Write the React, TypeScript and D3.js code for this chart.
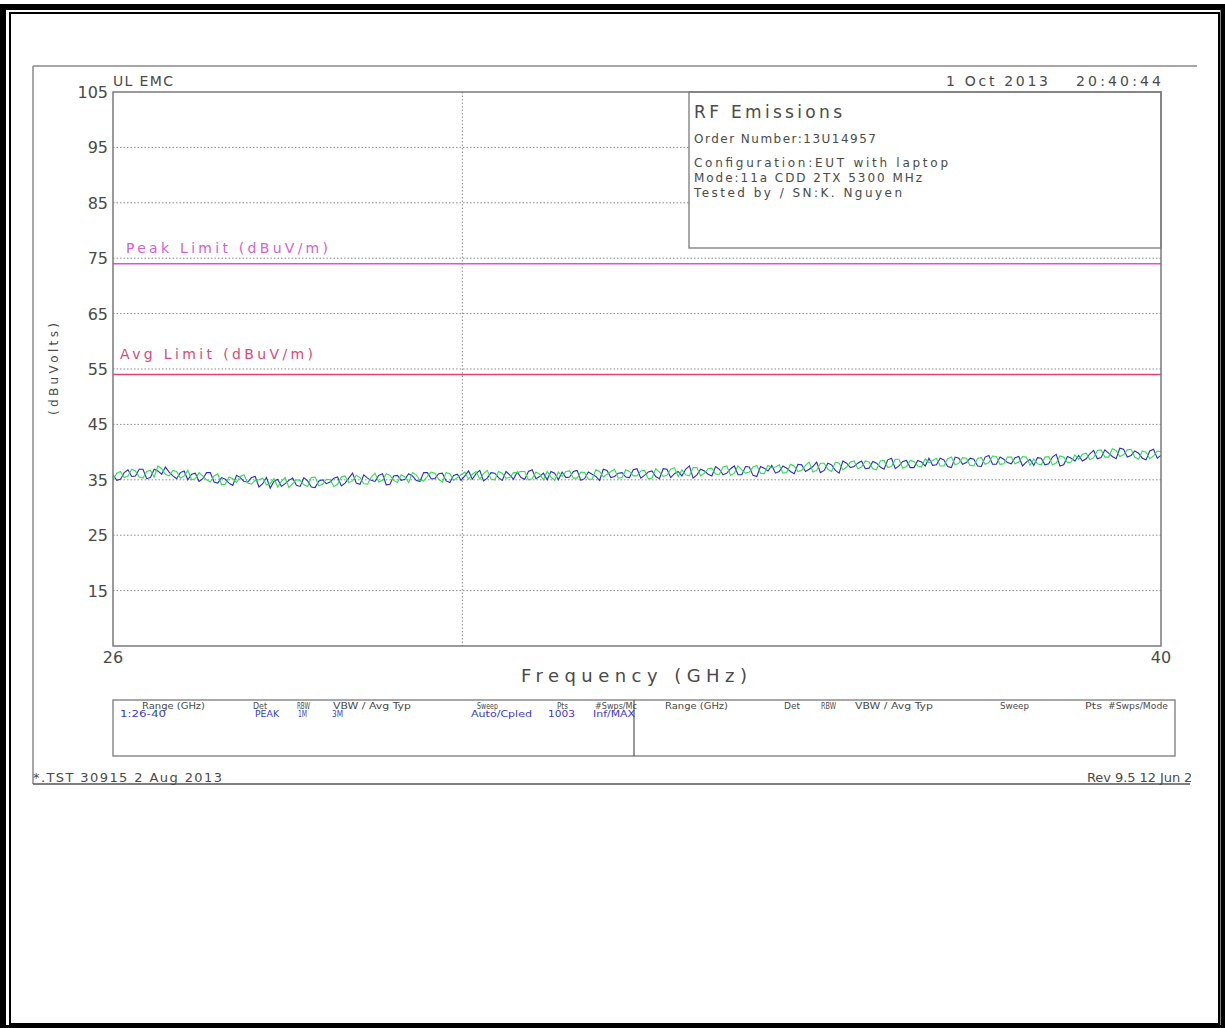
import React from "react";
import * as d3 from "d3";

// ---------- data ----------
const yTicks = [15, 25, 35, 45, 55, 65, 75, 85, 95, 105];
const xTickLabels = [26, 40];
const xDomain = [26, 40];
const yDomain = [5, 105];
const peakLimit = 74;
const avgLimit = 54;

// trace readings at 26.0, 26.1, ... 40.0 GHz (dBuV)
const blueTrace = [
  35.9, 35.1, 36.8, 35.7, 36.9, 35.4, 36.6, 37.3, 35.7, 36.3,
  35.0, 36.2, 35.2, 36.3, 34.4, 35.1, 34.0, 35.4, 34.6, 35.6,
  34.3, 33.5, 35.1, 34.3, 35.3, 33.8, 34.8, 33.6, 35.0, 34.6,
  35.5, 34.4, 36.2, 34.2, 35.3, 34.7, 36.1, 34.2, 35.8, 35.1,
  35.7, 34.7, 36.3, 35.2, 36.2, 34.5, 36.0, 35.7, 35.1, 36.7,
  35.3, 36.2, 34.9, 35.9, 36.4, 35.1, 36.8, 35.6, 35.0, 36.2,
  36.4, 35.5, 36.7, 35.2, 36.0, 34.9, 36.7, 35.6, 36.3, 35.4,
  37.0, 35.8, 36.6, 35.2, 36.9, 36.1, 35.7, 37.5, 35.9, 36.6,
  35.7, 36.9, 36.2, 37.5, 35.9, 37.3, 35.6, 37.1, 37.6, 36.5,
  37.1, 36.1, 37.7, 36.9, 38.2, 36.7, 37.7, 36.2, 38.0, 37.4,
  38.4, 37.1, 38.0, 36.9, 38.9, 37.5, 38.5, 37.2, 38.2, 38.9,
  37.7, 38.6, 37.2, 38.9, 38.1, 38.7, 37.4, 39.4, 37.8, 38.7,
  37.9, 39.2, 38.2, 37.6, 38.9, 37.9, 39.6, 37.7, 38.9, 39.4,
  38.8, 40.3, 39.0, 39.8, 38.8, 40.5, 39.4, 39.8, 38.6, 40.5,
  39.4,
];
// trace readings at 26.05, 26.15, ... 39.95 GHz
const blueTraceMid = [
  34.9, 36.3, 35.6, 36.9, 35.2, 36.9, 36.0, 36.4, 35.2, 36.6,
  36.0, 34.7, 36.3, 34.6, 35.4, 34.4, 35.8, 34.7, 35.4, 33.7,
  35.4, 34.7, 33.8, 34.9, 34.0, 35.4, 33.7, 34.8, 34.3, 35.3,
  33.9, 35.3, 34.4, 35.9, 34.9, 35.8, 34.1, 35.7, 34.9, 36.1,
  34.9, 36.3, 35.2, 36.1, 34.8, 35.8, 34.9, 36.6, 36.1, 34.8,
  36.3, 35.4, 36.5, 35.1, 35.4, 36.5, 35.2, 36.2, 36.5, 35.0,
  35.4, 36.5, 34.9, 36.4, 35.6, 36.9, 35.4, 36.2, 35.5, 36.8,
  35.3, 36.4, 35.6, 37.0, 35.4, 36.5, 36.9, 35.3, 36.9, 36.0,
  37.4, 35.9, 37.0, 35.9, 37.4, 35.8, 37.4, 36.6, 36.2, 37.5,
  36.5, 37.8, 36.5, 37.4, 36.3, 38.0, 36.7, 38.4, 37.2, 38.0,
  37.0, 38.3, 37.3, 38.6, 37.0, 38.3, 37.2, 38.5, 37.5, 37.6,
  38.9, 37.4, 39.1, 37.8, 38.9, 37.5, 39.1, 37.8, 39.1, 38.1,
  39.0, 37.5, 38.7, 39.0, 37.7, 39.1, 37.5, 39.2, 38.4, 38.4,
  39.7, 38.8, 40.4, 39.2, 40.7, 39.1, 40.2, 38.9, 40.2, 38.9,
];

const greenTrace = [
  35.0, 36.5, 35.7, 36.6, 35.3, 36.7, 37.5, 36.0, 36.7, 35.3,
  36.7, 35.2, 35.7, 34.6, 36.1, 34.2, 35.2, 35.6, 34.4, 34.9,
  35.3, 34.3, 33.7, 35.4, 34.3, 34.9, 33.8, 35.5, 34.2, 35.0,
  34.2, 35.7, 34.8, 35.4, 34.2, 36.2, 34.9, 35.8, 34.5, 35.5,
  36.3, 34.9, 35.6, 36.2, 34.6, 36.1, 35.4, 36.4, 36.0, 35.1,
  36.7, 35.0, 36.2, 35.4, 36.3, 36.5, 35.2, 36.0, 36.5, 34.9,
  35.6, 36.6, 35.3, 36.3, 35.1, 36.5, 36.0, 36.9, 35.4, 36.5,
  35.7, 36.7, 35.3, 36.4, 35.8, 37.2, 36.8, 35.7, 37.2, 36.2,
  37.1, 36.0, 37.5, 36.2, 36.8, 36.4, 37.6, 36.1, 37.2, 37.7,
  36.3, 37.5, 36.7, 38.2, 36.7, 38.0, 36.5, 38.0, 37.3, 38.4,
  37.3, 38.2, 36.8, 38.5, 37.4, 38.7, 37.4, 38.3, 37.3, 38.1,
  38.9, 37.5, 39.1, 38.0, 38.9, 37.5, 39.0, 38.1, 39.2, 37.9,
  39.1, 38.2, 39.1, 38.8, 37.7, 39.2, 38.0, 39.1, 38.2, 38.7,
  39.8, 39.0, 40.4, 39.1, 40.3, 39.5, 40.5, 38.7, 40.0, 39.3,
  40.1,
];
const greenTraceMid = [
  36.2, 35.4, 36.9, 35.5, 36.5, 35.5, 37.0, 35.7, 36.5, 35.7,
  35.0, 36.3, 35.0, 35.7, 34.1, 35.5, 34.5, 35.9, 34.2, 35.0,
  34.1, 35.2, 34.7, 33.6, 35.0, 34.1, 35.4, 33.9, 35.1, 33.8,
  35.5, 34.5, 35.8, 34.3, 35.5, 34.6, 36.1, 34.9, 35.9, 34.5,
  35.9, 34.8, 36.4, 35.1, 36.3, 34.9, 35.9, 35.1, 36.5, 36.1,
  35.1, 36.5, 35.3, 36.3, 36.5, 35.0, 36.4, 35.0, 35.5, 36.4,
  36.5, 35.3, 36.4, 35.1, 36.8, 35.5, 36.5, 35.3, 36.8, 35.7,
  36.6, 35.2, 37.0, 35.6, 36.9, 35.6, 35.9, 37.2, 35.7, 37.0,
  36.0, 37.3, 35.8, 37.5, 36.2, 37.3, 36.2, 37.6, 37.3, 36.2,
  37.8, 36.5, 37.6, 36.4, 38.0, 36.9, 38.2, 36.8, 38.2, 37.0,
  38.4, 37.0, 38.4, 37.2, 38.7, 37.1, 38.5, 37.5, 38.8, 38.5,
  37.5, 38.8, 37.7, 39.0, 37.6, 38.9, 37.8, 39.3, 37.8, 39.1,
  37.9, 39.2, 37.6, 37.9, 39.1, 37.7, 39.3, 38.1, 39.5, 39.6,
  38.6, 40.3, 39.1, 40.6, 39.2, 40.4, 39.1, 40.2, 38.8, 40.2,
];

const sweepStart = 26;
const sweepStep = 0.1;

const infoTitle = "RF Emissions";
const infoLines = [
  "Order Number:13U14957",
  "Configuration:EUT with laptop",
  "Mode:11a CDD 2TX 5300 MHz",
  "Tested by / SN:K. Nguyen",
];

const tableHeaders = ["Range (GHz)", "Det", "RBW", "VBW / Avg Typ", "Sweep", "Pts", "#Swps/Mc"];
const tableValues = ["1:26-40", "PEAK", "1M", "3M", "Auto/Cpled", "1003", "Inf/MAX"];
const tableHeaders2 = ["Range (GHz)", "Det", "RBW", "VBW / Avg Typ", "Sweep", "Pts", "#Swps/Mode"];

// ---------- layout ----------
const W = 1225;
const H = 1028;
const PL = 113, PR = 1161, PT = 92, PB = 646;
const FONT = "'DejaVu Sans', 'Liberation Sans', sans-serif";
const TXT = "#4a4a4a";
const GRID = "#8a8a8a";
const AX = "#7a7a7a";

const hdrPos: [number, number][] = [[142, 63], [253, 14], [297, 13], [333, 78], [477, 21], [557, 11], [595, 42]];
const valPos: [number, number][] = [[120, 46], [255, 24], [298, 9], [332, 11], [471, 61], [548, 27], [593, 42]];
const hdrPos2: [number, number][] = [[665, 63], [784, 16], [821, 15], [855, 78], [1000, 29], [1085, 17], [1108, 60]];

function buildPoints(main: number[], mid: number[]): [number, number][] {
  const pts: [number, number][] = [];
  main.forEach((v, i) => {
    pts.push([sweepStart + i * sweepStep, v]);
    if (i < mid.length) pts.push([sweepStart + (i + 0.5) * sweepStep, mid[i]]);
  });
  return pts;
}

export default function App() {
  const x = d3.scaleLinear().domain(xDomain).range([PL, PR]);
  const y = d3.scaleLinear().domain(yDomain).range([PB, PT]);
  const line = d3
    .line<[number, number]>()
    .x((d) => x(d[0]))
    .y((d) => y(d[1]));

  const bluePts = buildPoints(blueTrace, blueTraceMid);
  const greenPts = buildPoints(greenTrace, greenTraceMid);

  const vGrid = xDomain[0] + (xDomain[1] - xDomain[0]) / 3;

  return (
    <svg
      width={W}
      height={H}
      style={{ position: "absolute", left: 0, top: 0, background: "#fff" }}
      fontFamily={FONT}
    >
      <defs>
        <clipPath id="plotClip">
          <rect x={PL} y={PT} width={PR - PL} height={PB - PT} />
        </clipPath>
        <clipPath id="pageClip">
          <rect x={33} y={60} width={1158} height={730} />
        </clipPath>
      </defs>
      <rect x={0} y={0} width={W} height={H} fill="#fff" />

      {/* outer frame */}
      <rect x={3} y={7} width={1220.5} height={1021} fill="none" stroke="#000" strokeWidth={6} />
      <rect x={10} y={13} width={1209} height={1011} fill="none" stroke="#000" strokeWidth={2} />

      {/* page outline */}
      <line x1={33} y1={66} x2={1197} y2={66} stroke={GRID} strokeWidth={1.5} />
      <line x1={33} y1={66} x2={33} y2={784} stroke={GRID} strokeWidth={1.5} />
      <line x1={33} y1={784} x2={1190} y2={784} stroke="#555" strokeWidth={1.5} />

      {/* header */}
      <text x={PL} y={86} fontSize={14} fill={TXT} textLength={60} lengthAdjust="spacing">UL EMC</text>
      <text x={946} y={86} fontSize={14} fill={TXT} textLength={102} lengthAdjust="spacing">1 Oct 2013</text>
      <text x={1076} y={86} fontSize={14} fill={TXT} textLength={85} lengthAdjust="spacing">20:40:44</text>

      {/* horizontal gridlines */}
      {yTicks.filter((t) => t < 105).map((t) => (
        <line key={t} x1={PL} x2={PR} y1={y(t)} y2={y(t)} stroke={GRID} strokeWidth={1} strokeDasharray="1.5,2" />
      ))}
      {/* vertical gridline */}
      <line x1={x(vGrid)} x2={x(vGrid)} y1={PT} y2={PB} stroke={GRID} strokeWidth={1} strokeDasharray="1.5,2" />

      {/* y tick labels */}
      {yTicks.map((t) => (
        <text key={t} x={108} y={y(t) + 6} fontSize={16} fill={TXT} textAnchor="end">{t}</text>
      ))}
      {/* x tick labels */}
      {xTickLabels.map((t) => (
        <text key={t} x={x(t)} y={663} fontSize={16} fill={TXT} textAnchor="middle">{t}</text>
      ))}

      {/* axis titles */}
      <text x={521} y={682} fontSize={18} fill={TXT} textLength={226} lengthAdjust="spacing">Frequency (GHz)</text>
      <text
        transform={`translate(58,369) rotate(-90)`}
        fontSize={12}
        fill={TXT}
        textAnchor="middle"
        textLength={92}
        lengthAdjust="spacing"
      >
        (dBuVolts)
      </text>

      {/* limit lines */}
      <line x1={PL} x2={PR} y1={y(peakLimit)} y2={y(peakLimit)} stroke="#e050e0" strokeWidth={1.6} />
      <line x1={PL} x2={PR} y1={y(avgLimit)} y2={y(avgLimit)} stroke="#e8406c" strokeWidth={1.6} />
      <text x={126} y={253} fontSize={14} fill="#d660d6" textLength={202} lengthAdjust="spacing">Peak Limit (dBuV/m)</text>
      <text x={120} y={359} fontSize={14} fill="#dc4a78" textLength={193} lengthAdjust="spacing">Avg Limit (dBuV/m)</text>

      {/* traces */}
      <g clipPath="url(#plotClip)">
        <path d={line(bluePts) || ""} fill="none" stroke="#2a2ad0" strokeWidth={1.1} />
        <path d={line(greenPts) || ""} fill="none" stroke="#2ee04a" strokeWidth={1.1} />
      </g>

      {/* info box */}
      <rect x={689} y={PT} width={PR - 689} height={156} fill="#fff" stroke={AX} strokeWidth={1.3} />
      <text x={694} y={118} fontSize={17} fill={TXT} textLength={148} lengthAdjust="spacing">{infoTitle}</text>
      {infoLines.map((s, i) => {
        const ys = [143, 167, 182, 197];
        const ws = [182, 254, 228, 208];
        return (
          <text key={s} x={694} y={ys[i]} fontSize={12} fill={TXT} textLength={ws[i]} lengthAdjust="spacing">{s}</text>
        );
      })}

      {/* plot frame */}
      <rect x={PL} y={PT} width={PR - PL} height={PB - PT} fill="none" stroke={AX} strokeWidth={1.5} />

      {/* settings table */}
      <rect x={113} y={700} width={1062} height={56} fill="none" stroke={AX} strokeWidth={1.3} />
      <line x1={634} x2={634} y1={700} y2={756} stroke="#555" strokeWidth={1.2} />
      {tableHeaders.map((s, i) => (
        <text key={"h" + i} x={hdrPos[i][0]} y={709} fontSize={8.5} fill={TXT} textLength={hdrPos[i][1]} lengthAdjust="spacingAndGlyphs">{s}</text>
      ))}
      {tableValues.map((s, i) => (
        <text key={"v" + i} x={valPos[i][0]} y={717} fontSize={8.5} fill="#3a3ad0" textLength={valPos[i][1]} lengthAdjust="spacingAndGlyphs">{s}</text>
      ))}
      {tableHeaders2.map((s, i) => (
        <text key={"h2" + i} x={hdrPos2[i][0]} y={709} fontSize={8.5} fill={TXT} textLength={hdrPos2[i][1]} lengthAdjust="spacingAndGlyphs">{s}</text>
      ))}

      {/* footer */}
      <g clipPath="url(#pageClip)">
        <text x={33} y={782} fontSize={13} fill={TXT} textLength={189} lengthAdjust="spacing">*.TST 30915  2 Aug 2013</text>
        <text x={1087} y={782} fontSize={13} fill={TXT} textLength={130} lengthAdjust="spacing">Rev 9.5 12 Jun 2013</text>
      </g>
    </svg>
  );
}
